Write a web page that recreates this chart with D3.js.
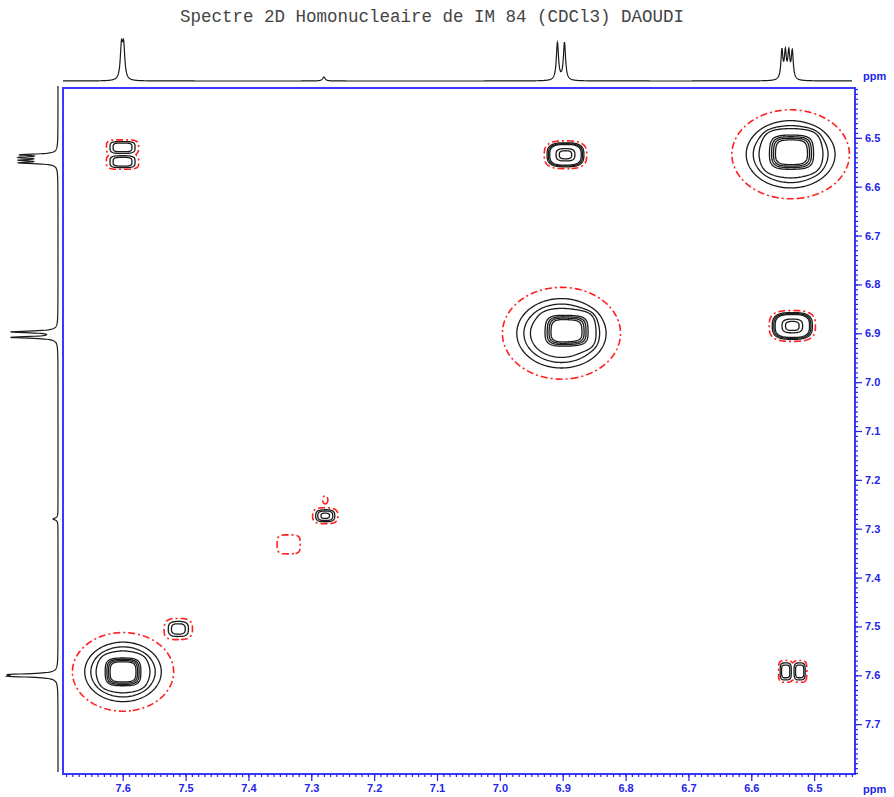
<!DOCTYPE html>
<html><head><meta charset="utf-8">
<script src="https://cdn.jsdelivr.net/npm/d3@7"></script>
<style>body{margin:0;background:#fff}svg{display:block}</style>
</head><body>
<svg id="c" width="894" height="797"></svg>
<script>
// ---------------- data ----------------
const title = "Spectre 2D Homonucleaire de IM 84 (CDCl3) DAOUDI";
const axisUnit = "ppm";
const f2Domain = [7.695, 6.435];   // horizontal axis (ppm)
const f1Domain = [6.398, 7.802];   // vertical axis (ppm)
const xTickValues = [7.6, 7.5, 7.4, 7.3, 7.2, 7.1, 7.0, 6.9, 6.8, 6.7, 6.6, 6.5];
const yTickValues = [6.5, 6.6, 6.7, 6.8, 6.9, 7.0, 7.1, 7.2, 7.3, 7.4, 7.5, 7.6, 7.7];

// 1D projection spectrum: line position (ppm), relative height, half-width (ppm)
const linePpm    = [7.6020, 7.5985, 7.2800, 6.9084, 6.8972, 6.5513, 6.5458, 6.5403, 6.5348];
const lineHeight = [0.80,   0.80,   0.10,   0.94,   0.94,   0.72,   0.66,   0.66,   0.70];
const lineWidth  = [0.0022, 0.0022, 0.0025, 0.0021, 0.0021, 0.0019, 0.0019, 0.0019, 0.0019];

// 2D COSY peak components: F2 (ppm), F1 (ppm), amplitude, widths (ppm), shape exponent
const peakF2    = [7.6003, 7.6003, 6.8956, 6.5374, 6.5358, 6.9020, 6.8925, 6.5347, 7.2778, 7.2778, 7.3360, 7.5114, 7.5995, 7.5995, 6.5453, 6.5230];
const peakF1    = [6.5195, 6.5490, 6.5347, 6.5337, 6.5286, 6.9000, 6.8940, 6.8850, 7.2735, 7.2409, 7.3320, 7.5051, 7.5930, 7.5930, 7.5920, 7.5920];
const peakAmp   = [0.20,   0.20,   0.95,   0.50,   1.00,   0.50,   1.00,   0.95,   0.25,   0.06,   0.07,   0.20,   0.50,   1.00,   0.20,   0.20];
const peakWF2   = [0.0218, 0.0218, 0.0223, 0.0557, 0.0350, 0.0560, 0.0340, 0.0243, 0.0156, 0.0050, 0.0191, 0.0180, 0.0480, 0.0280, 0.0096, 0.0096];
const peakWF1   = [0.0130, 0.0130, 0.0187, 0.0543, 0.0350, 0.0560, 0.0310, 0.0208, 0.0126, 0.0100, 0.0202, 0.0173, 0.0480, 0.0280, 0.0190, 0.0190];
const peakShape = [4,      4,      3,      2,      4,      2,      4,      3,      3,      2,      4,      3,      2,      4,      4,      4];

// contour levels (lowest drawn red dashed)
const contourLevels = [0.03, 0.10, 0.16, 0.23, 0.70, 0.87, 1.02, 1.16];

// ---------------- layout ----------------
const svg = d3.select("#c");
const plot = {left: 63, right: 855, top: 88, bottom: 774};
const blue = "#2424e8", red = "#ff1f1f", ink = "#1b1b1b";

const x = d3.scaleLinear().domain(f2Domain).range([plot.left, plot.right]);
const y = d3.scaleLinear().domain(f1Domain).range([plot.top, plot.bottom]);
const topI = d3.scaleLinear().domain([0, 1]).range([81, 41]);
const leftI = d3.scaleLinear().domain([0, 1]).range([58, 9]);

// frame
svg.append("rect")
  .attr("x", plot.left).attr("y", plot.top)
  .attr("width", plot.right - plot.left).attr("height", plot.bottom - plot.top)
  .attr("fill", "none").attr("stroke", "#3a3aff").attr("stroke-width", 2);

// ---------------- 2D contours ----------------
const n = Math.round(plot.right - plot.left);
const m = Math.round(plot.bottom - plot.top);
const f2Start = f2Domain[0], dF2 = (f2Domain[1] - f2Domain[0]) / n;
const f1Start = f1Domain[0], dF1 = (f1Domain[1] - f1Domain[0]) / m;
const grid = new Array(n * m).fill(0);
peakF2.forEach((c2, k) => {
  const c1 = peakF1[k], A = peakAmp[k], w2 = peakWF2[k], w1 = peakWF1[k], p = peakShape[k];
  const R = Math.pow(Math.log(A * 1e4), 1 / p);
  const ia = (c2 - R * w2 - f2Start) / dF2 - 0.5, ib = (c2 + R * w2 - f2Start) / dF2 - 0.5;
  const ja = (c1 - R * w1 - f1Start) / dF1 - 0.5, jb = (c1 + R * w1 - f1Start) / dF1 - 0.5;
  const iLo = Math.max(0, Math.floor(Math.min(ia, ib))), iHi = Math.min(n - 1, Math.ceil(Math.max(ia, ib)));
  const jLo = Math.max(0, Math.floor(Math.min(ja, jb))), jHi = Math.min(m - 1, Math.ceil(Math.max(ja, jb)));
  for (let j = jLo; j <= jHi; j++) {
    const vp = Math.pow(Math.abs((f1Start + (j + 0.5) * dF1 - c1) / w1), p);
    for (let i = iLo; i <= iHi; i++) {
      const up = Math.pow(Math.abs((f2Start + (i + 0.5) * dF2 - c2) / w2), p);
      grid[j * n + i] += A * Math.exp(-(up + vp));
    }
  }
});
const contours = d3.contours().size([n, m]).thresholds(contourLevels)(grid);
const proj = d3.geoTransform({
  point(gx, gy) { this.stream.point(x(f2Start + gx * dF2), y(f1Start + gy * dF1)); }
});
const path = d3.geoPath(proj);
const cg = svg.append("g");
// black levels first, red on top
cg.selectAll("path.blk").data(contours.slice(1)).join("path").attr("class", "blk")
  .attr("d", path).attr("fill", "none").attr("stroke", ink).attr("stroke-width", 1.3)
  .attr("stroke-linejoin", "round");
cg.selectAll("path.neg").data(contours.slice(0, 1)).join("path").attr("class", "neg")
  .attr("d", path).attr("fill", "none").attr("stroke", red).attr("stroke-width", 1.6)
  .attr("stroke-dasharray", "7,3,2,3");

// ---------------- axes ----------------
const minorX = d3.range(644, 770).map(v => v / 100);
const minorY = d3.range(640, 781).map(v => v / 100);
function styleAxis(g) {
  g.select(".domain").remove();
  g.selectAll(".tick line").attr("stroke", blue).attr("stroke-width", 1.2);
  g.selectAll(".tick text").attr("fill", blue)
    .style("font-family", "'Liberation Sans', Arial, sans-serif")
    .style("font-size", "11px").style("font-weight", "bold");
}
svg.append("g").attr("transform", `translate(0,${plot.bottom})`)
  .call(d3.axisBottom(x).tickValues(minorX).tickSize(3).tickFormat("")).call(styleAxis);
svg.append("g").attr("transform", `translate(0,${plot.bottom})`)
  .call(d3.axisBottom(x).tickValues(xTickValues).tickSize(7).tickPadding(3).tickFormat(d3.format(".1f"))).call(styleAxis);
svg.append("g").attr("transform", `translate(${plot.right},0)`)
  .call(d3.axisRight(y).tickValues(minorY).tickSize(3).tickFormat("")).call(styleAxis);
svg.append("g").attr("transform", `translate(${plot.right},0)`)
  .call(d3.axisRight(y).tickValues(yTickValues).tickSize(7).tickPadding(3).tickFormat(d3.format(".1f"))).call(styleAxis);

// ---------------- 1D projections ----------------
function intensity(ppm) {
  let s = 0;
  for (let k = 0; k < linePpm.length; k++) {
    const d = (ppm - linePpm[k]) / lineWidth[k];
    s += lineHeight[k] / (1 + d * d);
  }
  return s;
}
const topPpm = d3.range(0, 3200).map(k => x.invert(63) + (x.invert(852) - x.invert(63)) * k / 3199);
svg.append("path")
  .attr("d", d3.line().x(p => x(p)).y(p => topI(intensity(p)))(topPpm))
  .attr("fill", "none").attr("stroke", ink).attr("stroke-width", 1.2);
const leftPpm = d3.range(0, 3200).map(k => y.invert(86) + (y.invert(772) - y.invert(86)) * k / 3199);
svg.append("path")
  .attr("d", d3.line().x(p => leftI(intensity(p))).y(p => y(p))(leftPpm))
  .attr("fill", "none").attr("stroke", ink).attr("stroke-width", 1.2);

// ---------------- texts ----------------
svg.append("text").attr("x", 432).attr("y", 22).attr("text-anchor", "middle")
  .style("font-family", "'Liberation Mono', 'Courier New', monospace").style("font-size", "17.5px")
  .attr("fill", "#444").text(title);
const unitStyle = s => s.attr("fill", blue)
  .style("font-family", "'Liberation Sans', Arial, sans-serif").style("font-size", "11px").style("font-weight", "bold");
svg.append("text").attr("x", 863).attr("y", 80).text(axisUnit).call(unitStyle);
svg.append("text").attr("x", 863).attr("y", 793).text(axisUnit).call(unitStyle);
</script>
</body></html>
